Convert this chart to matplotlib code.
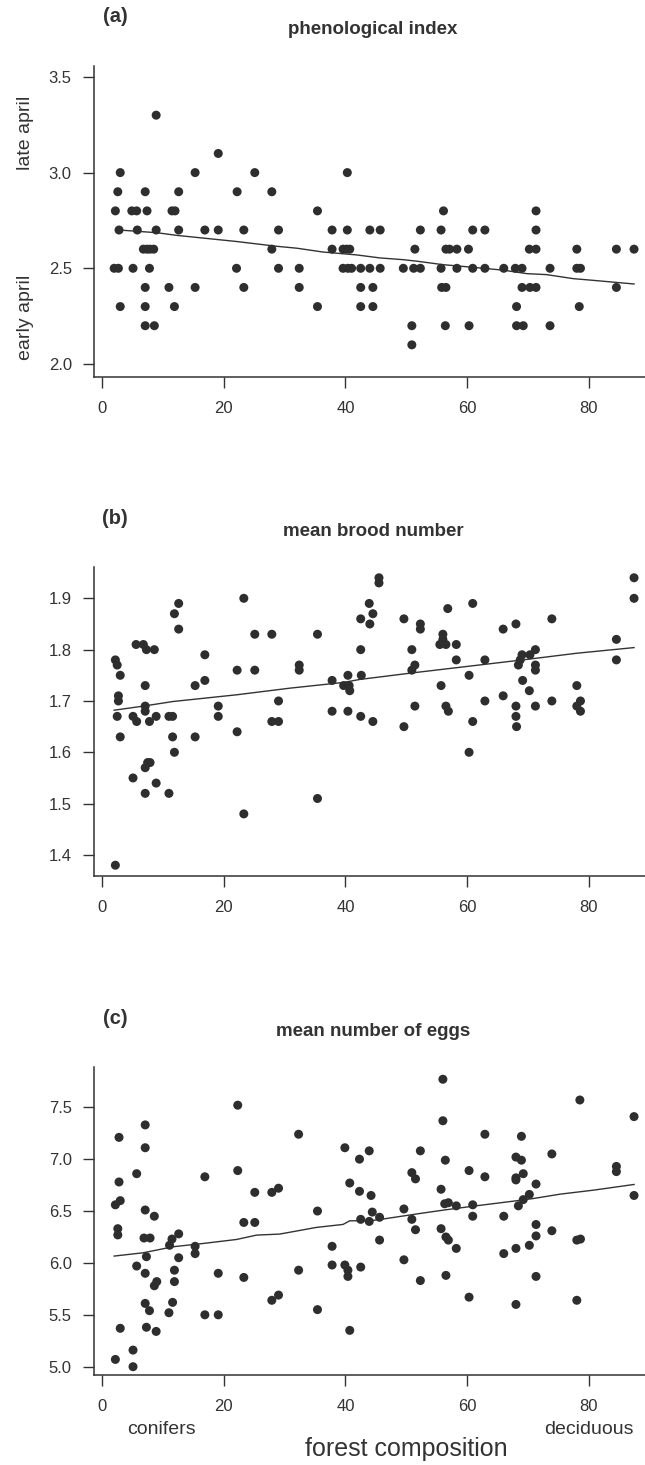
import matplotlib as mpl
mpl.use('Agg')
import matplotlib.pyplot as plt

plt.rcParams['font.family'] = ['Liberation Sans', 'DejaVu Sans']

# (a) phenological index
pheno_x = [8.9,
           19.1,
           3.0, 15.3, 25.1, 40.3,
           2.6, 7.1, 12.6, 22.2, 27.9,
           2.2, 4.9, 5.7, 7.4, 11.5, 12.0, 35.4, 56.1, 71.3,
           2.8, 5.8, 8.9, 12.6, 16.9, 19.1, 23.3, 29.0, 37.8, 40.3, 44.0, 45.7, 52.3, 55.7, 60.9, 62.9, 71.3,
           6.8, 7.4, 7.9, 8.5, 27.9, 37.8, 39.6, 40.2, 40.7, 51.4, 56.5, 57.1, 58.3, 60.2, 70.2, 71.3, 78.0, 84.5, 87.4,
           2.0, 2.7, 5.1, 7.8, 22.1, 29.0, 32.4, 39.6, 40.4, 41.0, 42.5, 44.0, 45.7, 49.5, 51.2, 52.3, 55.7, 58.3,
           60.9, 62.9, 66.0, 67.9, 69.0, 73.6, 78.0, 78.6,
           7.1, 11.0, 15.3, 23.3, 32.4, 42.5, 44.5, 55.8, 56.5, 69.0, 70.3, 71.3, 84.5,
           3.0, 7.1, 11.9, 35.4, 42.5, 44.5, 68.1, 78.4,
           7.1, 8.6, 50.9, 56.4, 60.3, 68.1, 69.2, 73.6,
           50.9]
pheno_y = ([3.3] + [3.1] + [3.0] * 4 + [2.9] * 5 + [2.8] * 9 + [2.7] * 17 + [2.6] * 19
           + [2.5] * 26 + [2.4] * 13 + [2.3] * 8 + [2.2] * 8 + [2.1])
pheno_trend_x = [2.8, 9.0, 12.3, 22.1, 28.7, 32.0, 36.3, 41.8, 45.7, 49.5, 52.0, 56.0, 61.0, 66.0, 69.8, 73.0, 77.4, 80.7, 87.4]
pheno_trend_y = [2.70, 2.686, 2.672, 2.64, 2.615, 2.605, 2.585, 2.57, 2.554, 2.545, 2.536, 2.519, 2.505, 2.49, 2.472,
                 2.467, 2.446, 2.437, 2.418]

# (b) mean brood number
brood_x = [2.2, 2.5, 3.0, 2.7, 2.7, 2.5, 3.0, 2.2,
           5.6, 6.8, 7.3, 8.6, 7.1, 7.1, 7.1, 5.1, 5.7, 7.8, 8.9, 11.0, 11.6, 11.6, 11.9, 7.1, 7.5, 7.9, 5.1, 8.9,
           7.1, 11.0, 11.9, 12.6, 12.6, 15.3, 16.9, 16.9, 15.3, 19.1, 19.1, 22.2, 22.2, 23.3, 23.3, 25.1, 25.1,
           27.9, 27.9, 29.0, 29.0, 32.4, 32.4, 35.4, 35.4, 37.8, 37.8, 40.4, 39.7, 40.6, 40.7, 40.4, 42.5, 42.5,
           42.5, 42.6, 43.9, 44.5, 44.0, 44.5, 45.5, 45.5, 49.6, 49.6, 50.9, 51.4, 50.9, 51.4, 52.3, 52.3, 55.7,
           56.0, 56.0, 55.5, 56.5, 56.8, 56.5, 56.9, 58.2, 58.2, 60.3, 60.9, 60.9, 60.3, 62.9, 62.9, 65.9, 65.9,
           68.0, 68.0, 68.0, 68.1, 68.4, 68.7, 69.0, 70.3, 71.2, 69.1, 70.2, 71.2, 71.2, 71.2, 73.9, 73.9, 78.0,
           78.0, 78.6, 78.6, 84.5, 84.5, 87.4, 87.4]
brood_y = [1.78, 1.77, 1.75, 1.71, 1.70, 1.67, 1.63, 1.38,
           1.81, 1.81, 1.80, 1.80, 1.73, 1.69, 1.68, 1.67, 1.66, 1.66, 1.67, 1.67, 1.67, 1.63, 1.60, 1.57, 1.58,
           1.58, 1.55, 1.54, 1.52, 1.52, 1.87, 1.89, 1.84, 1.73, 1.79, 1.74, 1.63, 1.69, 1.67, 1.76, 1.64, 1.90,
           1.48, 1.83, 1.76, 1.83, 1.66, 1.66, 1.70, 1.77, 1.76, 1.83, 1.51, 1.74, 1.68, 1.75, 1.73, 1.73, 1.72,
           1.68, 1.80, 1.86, 1.67, 1.75, 1.89, 1.87, 1.85, 1.66, 1.94, 1.93, 1.86, 1.65, 1.80, 1.77, 1.76, 1.69,
           1.85, 1.84, 1.73, 1.83, 1.82, 1.81, 1.81, 1.88, 1.69, 1.68, 1.81, 1.78, 1.75, 1.89, 1.66, 1.60, 1.78,
           1.70, 1.84, 1.71, 1.85, 1.69, 1.67, 1.65, 1.77, 1.78, 1.79, 1.79, 1.80, 1.74, 1.72, 1.77, 1.76, 1.69,
           1.86, 1.70, 1.73, 1.69, 1.70, 1.68, 1.82, 1.78, 1.94, 1.90]
brood_trend_x = [2.0, 6.8, 11.7, 22.1, 30.9, 39.6, 42.4, 51.2, 60.5, 69.8, 78.0, 87.4]
brood_trend_y = [1.682, 1.690, 1.699, 1.712, 1.725, 1.736, 1.742, 1.755, 1.768, 1.781, 1.793, 1.804]

# (c) mean number of eggs
eggs_x = [22.3, 7.1, 2.8, 7.1, 32.3, 39.9, 42.3, 43.9, 5.7, 22.3, 16.9, 2.8, 40.7, 42.3,
          2.2, 3.0, 25.1, 27.9, 29.0, 7.1, 8.6, 35.4, 23.3, 25.1, 2.6, 2.6, 6.9, 7.9, 42.5, 43.9, 11.5, 12.6,
          11.1, 15.3, 15.3, 37.8, 7.3, 12.6, 5.7, 7.1, 19.1, 23.3, 32.3, 37.8, 39.9, 40.4, 40.4, 42.5, 9.0, 8.6,
          11.9, 11.9, 27.9, 29.0, 7.1, 7.8, 11.6, 11.0, 16.9, 19.1, 35.4, 3.0, 7.3, 8.9, 40.7, 5.1, 2.2, 5.1,
          56.0, 56.0, 78.5, 87.4, 62.9, 68.9, 52.3, 73.9, 56.4, 68.0, 68.9, 50.9, 51.5, 60.3, 62.9, 68.0, 68.0,
          69.2, 84.5, 84.5, 44.2, 55.7, 71.3, 70.2, 69.2, 87.4, 56.3, 56.9, 58.2, 60.9, 68.4, 44.4, 45.6, 49.6,
          50.9, 60.9, 66.0, 45.6, 51.5, 55.7, 56.5, 56.9, 58.2, 71.3, 71.3, 73.9, 70.2, 68.0, 66.0, 78.0, 78.6,
          49.6, 52.3, 56.5, 71.3, 60.3, 78.0, 68.0]
eggs_y = [7.52, 7.33, 7.21, 7.11, 7.24, 7.11, 7.00, 7.08, 6.86, 6.89, 6.83, 6.78, 6.77, 6.69,
          6.56, 6.60, 6.68, 6.68, 6.72, 6.51, 6.45, 6.50, 6.39, 6.39, 6.33, 6.27, 6.24, 6.24, 6.42, 6.40, 6.23,
          6.28, 6.17, 6.16, 6.09, 6.16, 6.06, 6.05, 5.97, 5.90, 5.90, 5.86, 5.93, 5.98, 5.98, 5.93, 5.87, 5.96,
          5.82, 5.78, 5.93, 5.82, 5.64, 5.69, 5.61, 5.54, 5.62, 5.52, 5.50, 5.50, 5.55, 5.37, 5.38, 5.34, 5.35,
          5.16, 5.07, 5.00,
          7.77, 7.37, 7.57, 7.41, 7.24, 7.22, 7.08, 7.05, 6.99, 7.02, 6.99, 6.87, 6.81, 6.89, 6.83, 6.82, 6.80,
          6.86, 6.93, 6.88, 6.65, 6.71, 6.76, 6.66, 6.61, 6.65, 6.57, 6.58, 6.55, 6.56, 6.55, 6.49, 6.44, 6.52,
          6.42, 6.45, 6.45, 6.22, 6.32, 6.33, 6.25, 6.22, 6.14, 6.37, 6.26, 6.31, 6.17, 6.14, 6.09, 6.22, 6.23,
          6.03, 5.83, 5.88, 5.87, 5.67, 5.64, 5.60]
eggs_trend_x = [2.0, 6.8, 11.7, 16.7, 22.1, 25.4, 29.2, 35.2, 39.6, 40.7, 44.0, 45.7, 52.3, 56.1, 61.0, 68.1, 70.9,
                75.3, 80.7, 87.4]
eggs_trend_y = [6.066, 6.098, 6.156, 6.188, 6.226, 6.268, 6.278, 6.342, 6.371, 6.406, 6.406, 6.419, 6.477, 6.509,
                6.547, 6.599, 6.621, 6.663, 6.701, 6.756]

panels = [
    ('(a)', 'phenological index', pheno_x, pheno_y, pheno_trend_x, pheno_trend_y,
     (1.932, 3.557), [2.0, 2.5, 3.0, 3.5], ['2.0', '2.5', '3.0', '3.5'], 377, 66),
    ('(b)', 'mean brood number', brood_x, brood_y, brood_trend_x, brood_trend_y,
     (1.359, 1.961), [1.4, 1.5, 1.6, 1.7, 1.8, 1.9], ['1.4', '1.5', '1.6', '1.7', '1.8', '1.9'], 876, 567),
    ('(c)', 'mean number of eggs', eggs_x, eggs_y, eggs_trend_x, eggs_trend_y,
     (4.92, 7.888), [5.0, 5.5, 6.0, 6.5, 7.0, 7.5], ['5.0', '5.5', '6.0', '6.5', '7.0', '7.5'], 1375, 1067),
]

W, H = 645, 1465
ink = '#333333'
fig = plt.figure(figsize=(W / 100, H / 100), dpi=100)

for lab, title, xs, ys, tx, ty, ylim, yt, ytl, bot, top in panels:
    ax = fig.add_axes([94 / W, 1 - bot / H, (W - 94) / W, (bot - top) / H])
    ax.scatter(xs, ys, s=42, color='#2e2e2e', edgecolors='none', zorder=3)
    ax.plot(tx, ty, color=ink, lw=1.0, zorder=2)
    ax.set_xlim(-1.31, 89.2)
    ax.set_ylim(*ylim)
    ax.set_xticks([0, 20, 40, 60, 80])
    ax.set_yticks(yt)
    ax.set_yticklabels(ytl)
    for s in ['top', 'right']:
        ax.spines[s].set_visible(False)
    for s in ['left', 'bottom']:
        ax.spines[s].set_color(ink)
        ax.spines[s].set_linewidth(1.1)
    ax.tick_params(colors=ink, labelcolor=ink, labelsize=12, length=8, width=1.0)
    ax.tick_params(axis='x', pad=9)
    ax.tick_params(axis='y', pad=8)
    fig.text(115 / W, 1 - (top - 49) / H, lab, fontsize=14.5, fontweight='bold', color=ink,
             ha='center', va='center')
    fig.text(373 / W, 1 - (top - 36) / H, title, fontsize=13.5, fontweight='bold', color=ink,
             ha='center', va='center')

fig.text(25 / W, 1 - 133 / H, 'late april', rotation=90, fontsize=14, color=ink, ha='center', va='center')
fig.text(25 / W, 1 - 317 / H, 'early april', rotation=90, fontsize=14, color=ink, ha='center', va='center')
fig.text(161 / W, 1 - 1430 / H, 'conifers', fontsize=14, color=ink, ha='center', va='center')
fig.text(589 / W, 1 - 1430 / H, 'deciduous', fontsize=14, color=ink, ha='center', va='center')
fig.text(406 / W, 1 - 1449 / H, 'forest composition', fontsize=18, color=ink, ha='center', va='center')

fig.savefig('out.png', dpi=100)
